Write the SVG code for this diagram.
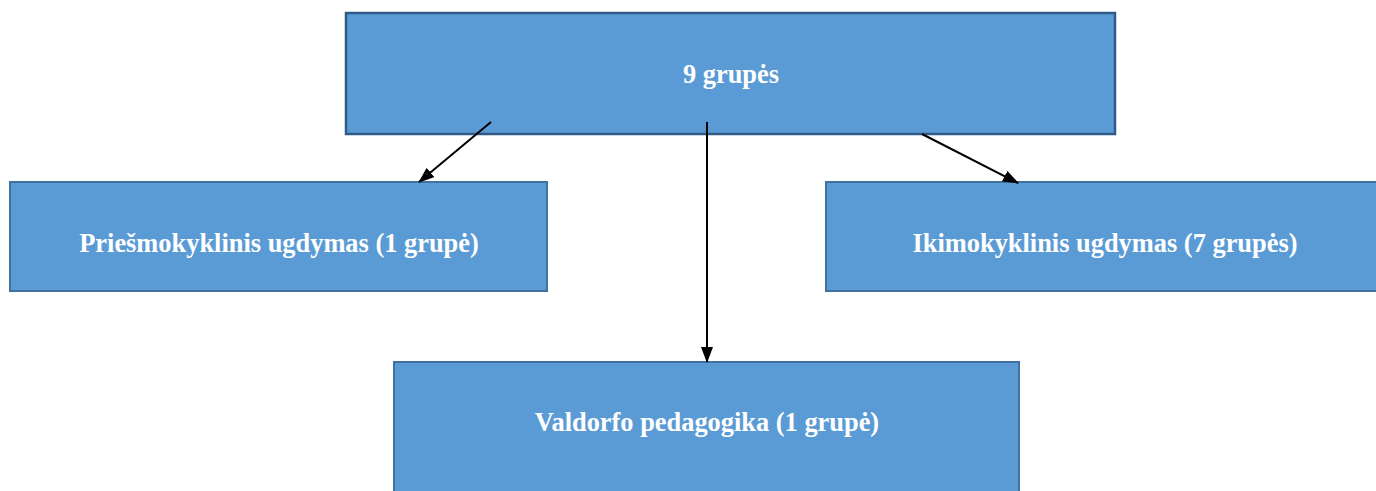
<svg xmlns="http://www.w3.org/2000/svg" width="1376" height="491" viewBox="0 0 1376 491">
<style>
.box{fill:#5b9bd5;stroke:#41719c;stroke-width:2}
.top{fill:#5b9bd5;stroke:#2f5b86;stroke-width:2.5}
.lbl{font-family:"Liberation Serif",serif;font-weight:bold;font-size:26.4px;fill:#fff;text-anchor:middle;dominant-baseline:central}
.con{stroke:#000;stroke-width:2;fill:none;marker-end:url(#ah)}
</style>
<defs>
<marker id="ah" markerWidth="16" markerHeight="12" refX="15" refY="6" orient="auto" markerUnits="userSpaceOnUse">
<path d="M0,0 L16,6 L0,12 Z" fill="#000"/>
</marker>
</defs>
<rect width="1376" height="491" fill="#fff"/>
<g id="n-top"><rect class="top" x="346" y="13" width="769" height="121"/><text class="lbl" x="731" y="74">9 grupės</text></g>
<g id="n-left"><rect class="box" x="10" y="182" width="537" height="109"/><text class="lbl" x="279" y="243">Priešmokyklinis ugdymas (1 grupė)</text></g>
<g id="n-right"><rect class="box" x="826" y="182" width="560" height="109"/><text class="lbl" x="1105" y="243">Ikimokyklinis ugdymas (7 grupės)</text></g>
<g id="n-bottom"><rect class="box" x="394" y="362" width="625" height="140"/><text class="lbl" x="707" y="422">Valdorfo pedagogika (1 grupė)</text></g>
<g id="connectors">
<line class="con" x1="491" y1="122" x2="419" y2="182"/>
<line class="con" x1="707" y1="122" x2="707" y2="362"/>
<line class="con" x1="922" y1="134" x2="1018" y2="183"/>
</g>
</svg>
